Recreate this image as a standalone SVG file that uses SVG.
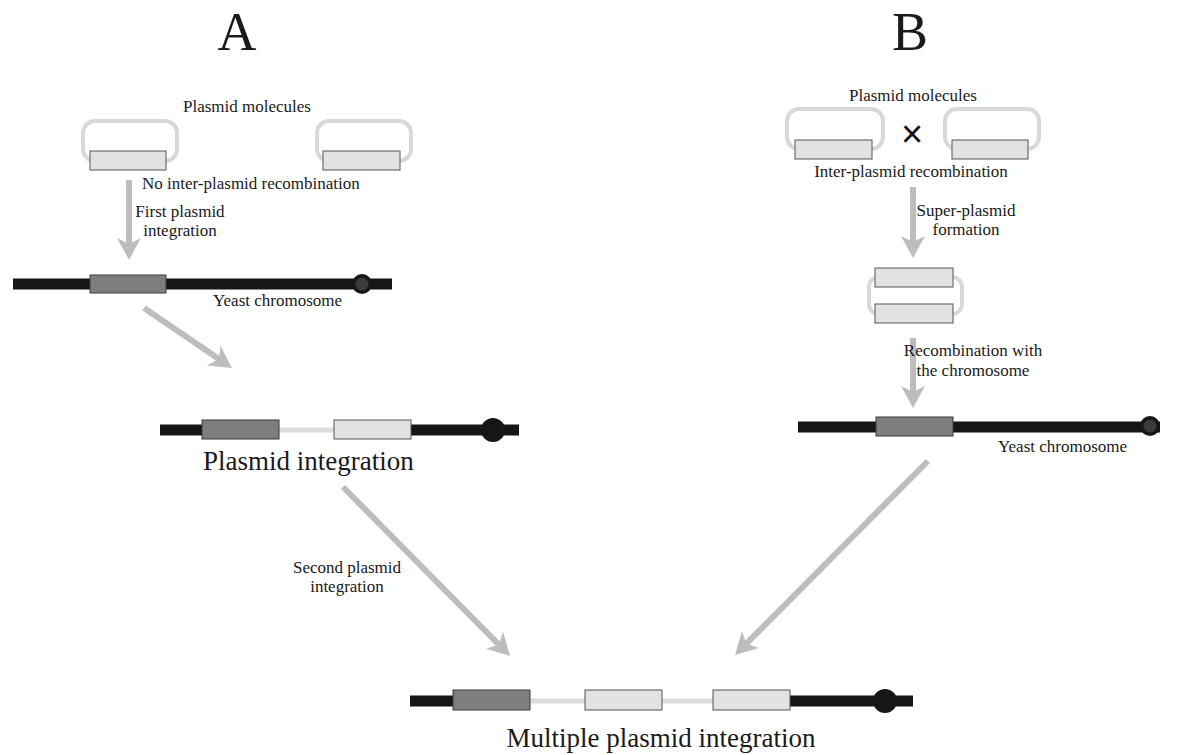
<svg xmlns="http://www.w3.org/2000/svg" width="1178" height="755" viewBox="0 0 1178 755">
<style>
  .t { font-family: "Liberation Serif", "Times New Roman", serif; fill: #1a1a1a; }
  .s { font-size: 17px; }
  .m { font-size: 27px; }
  .h { font-size: 54px; }
  .chr { stroke: #161616; stroke-width: 11; fill: none; }
  .link { stroke: #dcdcdc; stroke-width: 5; fill: none; }
  .dark { fill: #7e7e7e; stroke: #3a3a3a; stroke-width: 1; }
  .light { fill: #e2e2e2; stroke: #555; stroke-width: 1; }
  .loop { fill: none; stroke: #d8d8d8; stroke-width: 4; }
  .cen { fill: #161616; }
  .arr { stroke: #bdbdbd; stroke-width: 6; fill: none; marker-end: url(#ah); }
</style>
<defs>
  <marker id="ah" markerUnits="userSpaceOnUse" viewBox="-10 -14 26 28" markerWidth="26" markerHeight="28" refX="0" refY="0" orient="auto">
    <path d="M14,0 L-8,-12 L-2,0 L-8,12 Z" fill="#bdbdbd"/>
  </marker>
</defs>
<rect width="1178" height="755" fill="#ffffff"/>

<g id="titles">
  <text class="t h" x="237" y="50" text-anchor="middle">A</text>
  <text class="t h" x="910" y="50" text-anchor="middle">B</text>
</g>

<g id="connectors">
  <line class="arr" x1="129" y1="180" x2="129" y2="246"/>
  <line class="arr" x1="144" y1="308" x2="220.4" y2="360.1"/>
  <line class="arr" x1="343" y1="487" x2="500.2" y2="646"/>
  <line class="arr" x1="913" y1="187" x2="913" y2="244"/>
  <line class="arr" x1="913" y1="338" x2="913" y2="394"/>
  <line class="arr" x1="928" y1="461" x2="744.9" y2="645.1"/>
</g>

<g id="a-plasmids">
  <text class="t s" x="247" y="112" text-anchor="middle">Plasmid molecules</text>
  <rect class="loop" x="83" y="121" width="94" height="40" rx="12"/>
  <rect class="light" x="90" y="151" width="76" height="19"/>
  <rect class="loop" x="317" y="121" width="94" height="40" rx="12"/>
  <rect class="light" x="323" y="151" width="77" height="19"/>
  <text class="t s" x="142" y="189">No inter-plasmid recombination</text>
</g>

<g id="a-step1-label">
  <text class="t s" x="180" y="217" text-anchor="middle">First plasmid</text>
  <text class="t s" x="180" y="236" text-anchor="middle">integration</text>
</g>

<g id="a-chromosome">
  <line class="chr" x1="13" y1="284" x2="392" y2="284"/>
  <rect class="dark" x="90" y="275" width="76" height="18"/>
  <circle class="cen" cx="362" cy="284" r="10"/>
  <circle cx="362" cy="284" r="6.5" fill="#3c3c3c"/>
  <text class="t s" x="213" y="306">Yeast chromosome</text>
</g>

<g id="a-integration">
  <line class="chr" x1="160" y1="430" x2="203" y2="430"/>
  <line class="chr" x1="410" y1="430" x2="519" y2="430"/>
  <line class="link" x1="279" y1="430" x2="334" y2="430"/>
  <rect class="dark" x="202" y="420" width="77" height="19"/>
  <rect class="light" x="334" y="420" width="77" height="19"/>
  <circle class="cen" cx="493" cy="430" r="12"/>
  <text class="t m" x="203" y="470">Plasmid integration</text>
</g>

<g id="a-step2-label">
  <text class="t s" x="347" y="573" text-anchor="middle">Second plasmid</text>
  <text class="t s" x="347" y="592" text-anchor="middle">integration</text>
</g>

<g id="b-plasmids">
  <text class="t s" x="913" y="101" text-anchor="middle">Plasmid molecules</text>
  <rect class="loop" x="787" y="109" width="96" height="40" rx="12"/>
  <rect class="light" x="795" y="140" width="77" height="19"/>
  <rect class="loop" x="945" y="109" width="94" height="40" rx="12"/>
  <rect class="light" x="952" y="140" width="76" height="19"/>
  <text x="912" y="147" text-anchor="middle" font-family="Liberation Sans, Arial, sans-serif" font-size="38" fill="#111">×</text>
  <text class="t s" x="911" y="177" text-anchor="middle">Inter-plasmid recombination</text>
</g>

<g id="b-step1-label">
  <text class="t s" x="966" y="216" text-anchor="middle">Super-plasmid</text>
  <text class="t s" x="966" y="235" text-anchor="middle">formation</text>
</g>

<g id="b-superplasmid">
  <rect class="loop" x="869" y="277" width="93" height="37" rx="10"/>
  <rect class="light" x="875" y="268" width="78" height="19"/>
  <rect class="light" x="875" y="304" width="78" height="19"/>
</g>

<g id="b-step2-label">
  <text class="t s" x="973" y="356" text-anchor="middle">Recombination with</text>
  <text class="t s" x="973" y="376" text-anchor="middle">the chromosome</text>
</g>

<g id="b-chromosome">
  <line class="chr" x1="798" y1="427" x2="1160" y2="427"/>
  <rect class="dark" x="876" y="417" width="77" height="19"/>
  <circle class="cen" cx="1150" cy="426" r="10"/>
  <circle cx="1150" cy="426" r="6.5" fill="#3c3c3c"/>
  <text class="t s" x="998" y="452">Yeast chromosome</text>
</g>

<g id="multiple-integration">
  <line class="chr" x1="410" y1="701" x2="454" y2="701"/>
  <line class="chr" x1="789" y1="701" x2="913" y2="701"/>
  <line class="link" x1="530" y1="701" x2="713" y2="701"/>
  <rect class="dark" x="453" y="690" width="77" height="20"/>
  <rect class="light" x="585" y="690" width="77" height="20"/>
  <rect class="light" x="713" y="690" width="77" height="20"/>
  <circle class="cen" cx="885" cy="701" r="12"/>
  <text class="t m" x="661" y="747" text-anchor="middle">Multiple plasmid integration</text>
</g>
</svg>
